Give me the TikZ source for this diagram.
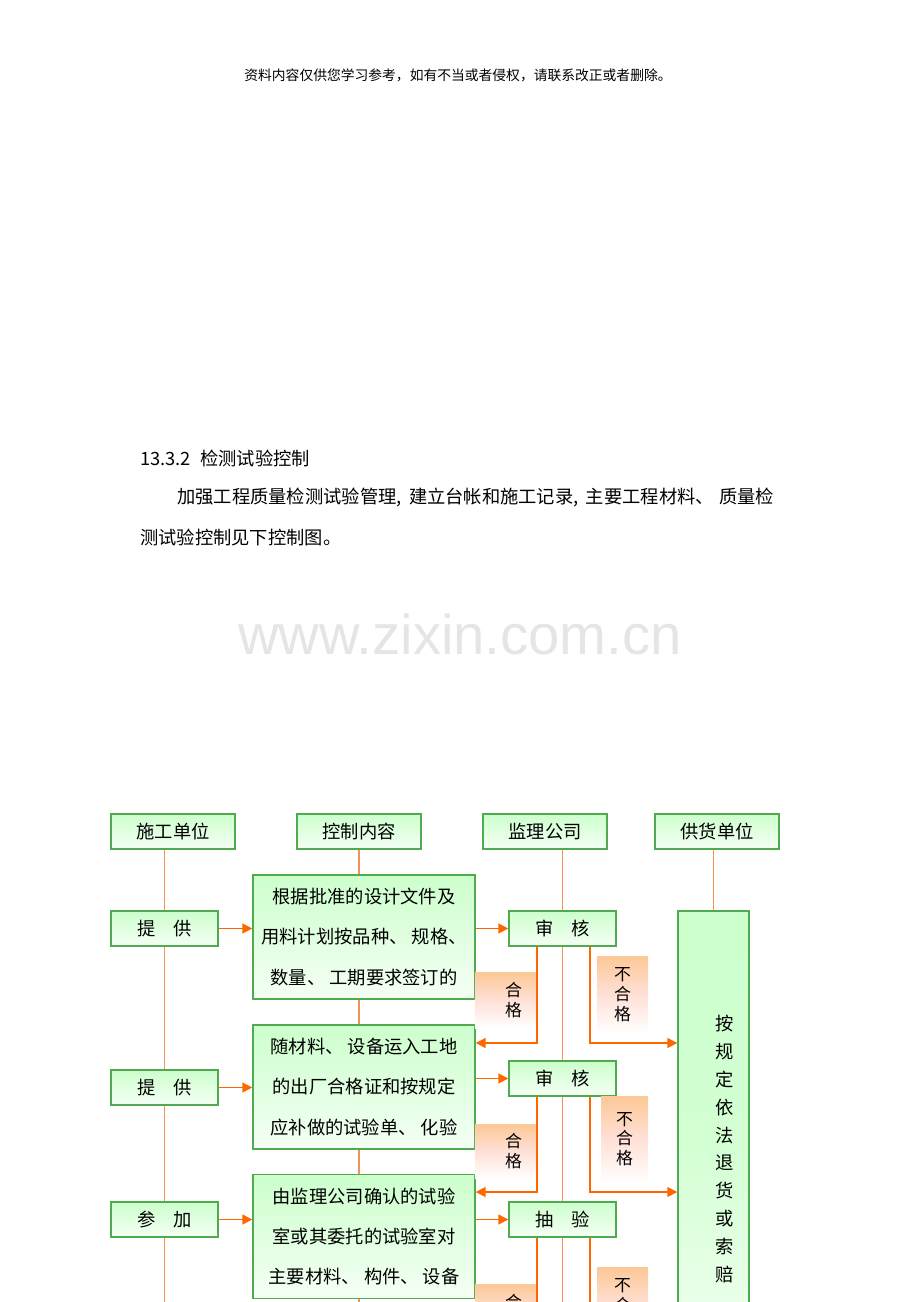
\documentclass[tikz,border=0pt]{standalone}
\usepackage{fontspec}
\setmainfont{Noto Sans CJK SC}
\newfontfamily\wmfont{Liberation Sans}
\usetikzlibrary{arrows.meta}

\definecolor{boxgreen}{RGB}{80,170,80}
\definecolor{boxfill}{RGB}{204,255,204}
\definecolor{lnorange}{RGB}{245,145,85}
\definecolor{arrorange}{RGB}{255,102,0}
\definecolor{labtop}{RGB}{252,200,150}
\definecolor{labmid}{RGB}{255,224,214}

\begin{document}
\begin{tikzpicture}[x=0.025cm,y=-0.025cm]
        \tikzset{
            hd/.style={
                draw=boxgreen,
                line width=1pt,
                top color=boxfill,
                bottom color=boxfill!20!white,
                minimum width=3.1cm,
                minimum height=0.875cm,
                inner sep=0pt,
                font=\fontsize{13}{15}\selectfont
            },
            sm/.style={hd, minimum width=2.675cm},
            bx/.style={
                hd,
                minimum width=5.55cm,
                minimum height=3.1cm,
                align=center,
                font=\fontsize{13}{28.5}\selectfont
            },
            lab/.style 2 args={
                top color=labtop,
                bottom color=white,
                middle color=labmid,
                minimum width=#1,
                minimum height=#2,
                inner sep=0pt,
                align=center,
                font=\fontsize{12}{14}\selectfont
            },
            txt/.style={inner sep=0pt, font=\fontsize{13}{15}\selectfont},
            ln/.style={draw=lnorange, line width=1pt},
            arr/.style={draw=arrorange, line width=1pt, -{Triangle[length=7pt,width=7pt]}}
        }
        \useasboundingbox (0,0) rectangle (920,1302);
        \clip (0,0) rectangle (920,1302);

        %texto
        \node[inner sep=0pt, font=\fontsize{9.8}{12}\selectfont] (aviso) at (458,75) {资料内容仅供您学习参考，如有不当或者侵权，请联系改正或者删除。};
        \node[txt, anchor=west] (titulo) at (140,458) {13.3.2\hspace{0.5em}检测试验控制};
        \node[txt, anchor=west] (par1) at (177,497) {加强工程质量检测试验管理,\hspace{0.4em}建立台帐和施工记录,\hspace{0.4em}主要工程材料、\hspace{0.3em}质量检};
        \node[txt, anchor=west] (par2) at (140,537) {测试验控制见下控制图。};
        \node[inner sep=0pt, text=black!10, font=\wmfont\fontsize{40}{44}\selectfont] (marca) at (460,634) {www.zixin.com.cn};

        %cabecalho
        \node[hd] (sg) at (173,831.5) {施工单位};
        \node[hd] (kz) at (359,831.5) {控制内容};
        \node[hd] (jl) at (545,831.5) {监理公司};
        \node[hd] (gy) at (717,831.5) {供货单位};

        %coluna 1
        \node[sm] (tg1) at (164.5,928.5) {提\hspace{1em}供};
        \node[sm] (tg2) at (164.5,1087.5) {提\hspace{1em}供};
        \node[sm] (cj) at (164.5,1219.5) {参\hspace{1em}加};

        %coluna 2
        \node[bx] (bx1) at (364,937) {根据批准的设计文件及\\用料计划按品种、 规格、\\数量、 工期要求签订的};
        \node[bx] (bx2) at (364,1087) {随材料、 设备运入工地\\的出厂合格证和按规定\\应补做的试验单、 化验};
        \node[bx] (bx3) at (364,1236.5) {由监理公司确认的试验\\室或其委托的试验室对\\主要材料、 构件、 设备};

        %coluna 3
        \node[sm] (sh1) at (562.5,928.5) {审\hspace{1em}核};
        \node[sm] (sh2) at (562.5,1078.5) {审\hspace{1em}核};
        \node[sm] (cy) at (562.5,1219.5) {抽\hspace{1em}验};

        %coluna 4
        \node[hd, minimum width=1.775cm, minimum height=11.9cm, middle color=boxfill!85!white] (gh) at (713.5,1149) {};
        \node[inner sep=0pt, align=center, font=\fontsize{13}{19.8}\selectfont] (ght) at (725,1149) {按\\规\\定\\依\\法\\退\\货\\或\\索\\赔};

        %rotulos
        \node[lab={1.55cm}{1.4cm}] (hg1) at (506,1000) {\hspace*{0.9em}合\\\hspace*{0.9em}格};
        \node[lab={1.275cm}{1.925cm}] (bh1) at (622.5,994.5) {不\\合\\格};
        \node[lab={1.55cm}{1.35cm}] (hg2) at (506,1151) {\hspace*{0.9em}合\\\hspace*{0.9em}格};
        \node[lab={1.175cm}{2.15cm}] (bh2) at (624.5,1139) {不\\合\\格};
        \node[lab={1.55cm}{1.4cm}] (hg3) at (506,1312) {\hspace*{0.9em}合\\\hspace*{0.9em}格};
        \node[lab={1.275cm}{1.925cm}] (bh3) at (622.5,1305.5) {不\\合\\格};

        \coordinate (bt) at (0,1340);
        \coordinate (ok1) at (537,1043);
        \coordinate (no1) at (590,1043);
        \coordinate (ok2) at (537,1192);
        \coordinate (no2) at (590,1192);
        \coordinate (ok3) at (537,1340);
        \coordinate (no3) at (590,1340);

        %linhas
        \draw[ln] (tg1.north) -- (tg1.north |- sg.south);
        \draw[ln] (tg1.south) -- (tg2.north);
        \draw[ln] (tg2.south) -- (cj.north);
        \draw[ln] (cj.south) -- (cj.south |- bt);
        \draw[ln] (kz.south) -- (kz.south |- bx1.north);
        \draw[ln] (kz.south |- bx1.south) -- (kz.south |- bx2.north);
        \draw[ln] (kz.south |- bx2.south) -- (kz.south |- bx3.north);
        \draw[ln] (kz.south |- bx3.south) -- (kz.south |- bt);
        \draw[ln] (jl.south -| sh1.north) -- (sh1.north);
        \draw[ln] (sh1.south) -- (sh2.north);
        \draw[ln] (sh2.south) -- (cy.north);
        \draw[ln] (cy.south) -- (cy.south |- bt);
        \draw[ln] (gh.north) -- (gh.north |- gy.south);

        %setas
        \draw[arr] (tg1) -- (bx1.west |- tg1);
        \draw[arr] (bx1.east |- sh1) -- (sh1);
        \draw[arr] (tg2) -- (bx2.west |- tg2);
        \draw[arr] (bx2.east |- sh2) -- (sh2);
        \draw[arr] (cj) -- (bx3.west |- cj);
        \draw[arr] (bx3.east |- cy) -- (cy);

        \draw[arr] (sh1.south -| ok1) -- (ok1) -- (bx2.east |- ok1);
        \draw[arr] (sh1.south -| no1) -- (no1) -- (gh.west |- no1);
        \draw[arr] (sh2.south -| ok2) -- (ok2) -- (bx3.east |- ok2);
        \draw[arr] (sh2.south -| no2) -- (no2) -- (gh.west |- no2);
        \draw[arr, -] (cy.south -| ok3) -- (ok3);
        \draw[arr, -] (cy.south -| no3) -- (no3);

    \end{tikzpicture}
\end{document}
